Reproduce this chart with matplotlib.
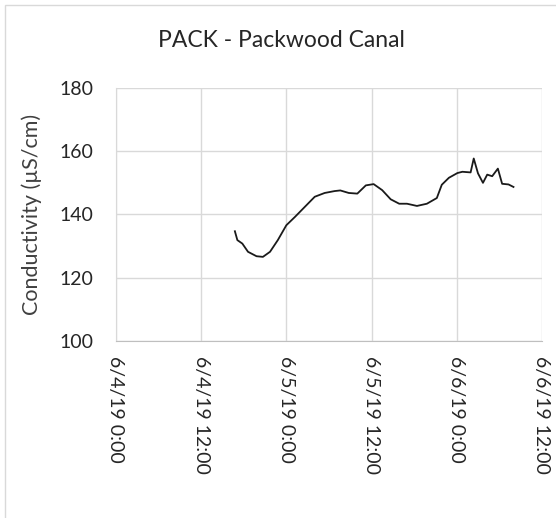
import matplotlib
matplotlib.use("Agg")
import matplotlib.pyplot as plt
from matplotlib.patches import Rectangle
from datetime import datetime, timedelta

# Hours since 6/4/19 0:00 and conductivity (µS/cm)
hours = [16.75, 17.1, 17.8, 18.6, 19.8, 20.7, 21.7, 22.8, 24.0, 25.2, 26.6, 28.0,
         29.4, 30.8, 31.6, 32.8, 34.0, 35.2, 36.3, 37.5, 38.7, 39.9, 41.0, 42.4,
         43.8, 45.2, 45.9, 46.9, 48.1, 48.8, 49.96, 50.4, 51.0, 51.7, 52.3, 53.0,
         53.8, 54.4, 55.3, 56.0]
conductivity = [134.7, 131.9, 130.8, 128.2, 126.8, 126.6, 128.2, 131.9, 136.6, 139.2,
                142.4, 145.6, 146.8, 147.4, 147.6, 146.8, 146.6, 149.2, 149.6, 147.7,
                144.8, 143.4, 143.4, 142.7, 143.4, 145.2, 149.4, 151.6, 153.1, 153.5,
                153.3, 157.7, 153.0, 150.0, 152.6, 152.1, 154.5, 149.7, 149.5, 148.7]

title = "PACK - Packwood Canal"
ylabel = "Conductivity (µS/cm)"
y_ticks = [100, 120, 140, 160, 180]
x_tick_hours = [0, 12, 24, 36, 48, 60]
x_tick_labels = ["6/4/19 0:00", "6/4/19 12:00", "6/5/19 0:00",
                 "6/5/19 12:00", "6/6/19 0:00", "6/6/19 12:00"]

start = datetime(2019, 6, 4, 0, 0)
times = [start + timedelta(hours=h) for h in hours]
x_ticks = [start + timedelta(hours=h) for h in x_tick_hours]

plt.rcParams['font.family'] = ['Lato', 'DejaVu Sans']

fig = plt.figure(figsize=(5.56, 5.18), dpi=100)
fig.patches.append(Rectangle((0.009, -0.05), 1.2, 1.04, transform=fig.transFigure,
                             fill=False, edgecolor='#d9d9d9', linewidth=1.0))

ax = fig.add_axes([0.2086, 0.3417, 0.766, 0.4885])
ax.plot(times, conductivity, color='#1a1a1a', linewidth=1.3)

ax.set_xlim(x_ticks[0], x_ticks[-1])
ax.set_ylim(100, 180)
ax.set_yticks(y_ticks)
ax.set_yticklabels([str(v) for v in y_ticks], fontsize=14, color='#262626')
ax.set_xticks(x_ticks)
ax.set_xticklabels(x_tick_labels, rotation=270, fontsize=14, color='#262626',
                   va='top', ha='center')
ax.tick_params(axis='x', length=0, pad=11)
ax.tick_params(axis='y', length=0, pad=16)
ax.grid(True, color='#d9d9d9', linewidth=1.0)
for s in ax.spines.values():
    s.set_visible(False)
ax.spines['bottom'].set_visible(True)
ax.spines['bottom'].set_color('#bfbfbf')
ax.spines['left'].set_visible(True)
ax.spines['left'].set_color('#d9d9d9')
ax.set_axisbelow(True)

ax.set_ylabel(ylabel, fontsize=15.5, color='#404040')
ax.yaxis.set_label_coords(-0.174, 0.5)
fig.text(0.507, 0.922, title, ha='center', va='center', fontsize=16.5, color='#262626')

fig.savefig("out.png", dpi=100)
